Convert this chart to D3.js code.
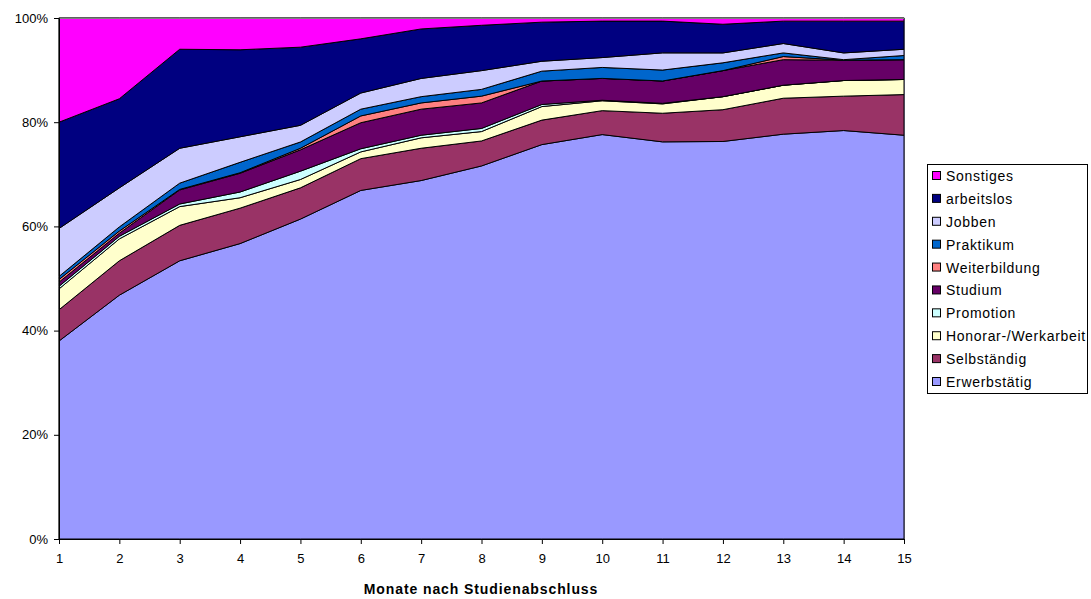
<!DOCTYPE html>
<html>
<head>
<meta charset="utf-8">
<script src="https://cdn.jsdelivr.net/npm/d3@7"></script>
<style>
  html, body { margin: 0; padding: 0; background: #ffffff; }
  svg { display: block; font-family: "Liberation Sans", Arial, sans-serif; }
</style>
</head>
<body>
<svg id="chart" width="1091" height="599"></svg>
<script>
// ---- Data (percent shares per month after graduation) ----
const months = [1, 2, 3, 4, 5, 6, 7, 8, 9, 10, 11, 12, 13, 14, 15];

const erwerbstaetig = [38.0, 46.8, 53.4, 56.7, 61.4, 66.9, 68.8, 71.6, 75.7, 77.7, 76.3, 76.3, 77.7, 78.4, 77.5];
const selbstaendig  = [6.0, 6.6, 6.8, 6.8, 6.0, 6.1, 6.2, 4.8, 4.7, 4.6, 5.5, 6.1, 6.9, 6.6, 7.8];
const honorar       = [4.0, 4.2, 3.6, 2.0, 1.6, 1.3, 2.0, 1.8, 2.6, 1.9, 1.8, 2.5, 2.5, 3.0, 2.9];
const promotion     = [0.5, 0.5, 0.5, 1.1, 1.6, 0.6, 0.5, 0.6, 0.4, 0.1, 0.1, 0.0, 0.0, 0.0, 0.0];
const studium       = [0.8, 0.6, 2.7, 3.6, 4.1, 5.0, 5.0, 4.9, 4.5, 4.2, 4.3, 5.0, 4.9, 3.9, 3.8];
const weiterbildung = [0.5, 0.4, 0.1, 0.1, 0.3, 1.3, 1.2, 1.3, 0.0, 0.0, 0.0, 0.0, 0.6, 0.0, 0.0];
const praktikum     = [0.6, 0.8, 1.2, 2.0, 1.2, 1.3, 1.2, 1.3, 1.9, 2.1, 2.1, 1.5, 0.7, 0.1, 0.8];
const jobben        = [9.2, 7.5, 6.7, 4.9, 3.2, 3.1, 3.5, 3.6, 1.9, 1.9, 3.3, 1.9, 1.8, 1.3, 1.2];
const arbeitslos    = [20.4, 17.1, 19.0, 16.7, 15.0, 10.4, 9.5, 8.7, 7.5, 7.0, 6.1, 5.5, 4.3, 6.1, 5.4];
const sonstiges     = [20.0, 15.5, 6.0, 6.1, 5.6, 4.0, 2.1, 1.4, 0.8, 0.6, 0.6, 1.2, 0.6, 0.6, 0.6];

// stacking order bottom -> top
const seriesNames = ["Erwerbstätig", "Selbständig", "Honorar-/Werkarbeit", "Promotion", "Studium",
                     "Weiterbildung", "Praktikum", "Jobben", "arbeitslos", "Sonstiges"];
const seriesValues = [erwerbstaetig, selbstaendig, honorar, promotion, studium,
                      weiterbildung, praktikum, jobben, arbeitslos, sonstiges];
const seriesColors = ["#9999FF", "#993366", "#FFFFCC", "#CCFFFF", "#660066",
                      "#FF8080", "#0066CC", "#CCCCFF", "#000080", "#FF00FF"];

const yTicks = [0, 0.2, 0.4, 0.6, 0.8, 1.0];
const xTitle = "Monate nach Studienabschluss";

(function () {
  const table = months.map((m, i) => {
    const row = { month: m };
    seriesNames.forEach((n, k) => { row[n] = seriesValues[k][i]; });
    return row;
  });

  const stack = d3.stack().keys(seriesNames).offset(d3.stackOffsetExpand);
  const layers = stack(table);

  const svg = d3.select("#chart");
  const pL = 59, pR = 904, pT = 18, pB = 539;

  const x = d3.scaleLinear().domain([1, 15]).range([pL, pR]);
  const y = d3.scaleLinear().domain([0, 1]).range([pB, pT]);
  const color = d3.scaleOrdinal().domain(seriesNames).range(seriesColors);

  svg.append("rect")
    .attr("x", pL).attr("y", pT)
    .attr("width", pR - pL).attr("height", pB - pT)
    .attr("fill", "#ffffff").attr("stroke", "#808080").attr("stroke-width", 1);

  const area = d3.area()
    .x(d => x(d.data.month))
    .y0(d => y(d[0]))
    .y1(d => y(d[1]));

  svg.append("g").selectAll("path")
    .data(layers)
    .join("path")
    .attr("d", area)
    .attr("fill", d => color(d.key))
    .attr("stroke", "#000000")
    .attr("stroke-width", 1)
    .attr("stroke-linejoin", "round");

  svg.append("line").attr("x1", pL).attr("x2", pR).attr("y1", pT + 0.5).attr("y2", pT + 0.5)
    .attr("stroke", "#808080");
  svg.append("line").attr("x1", pR + 0.5).attr("x2", pR + 0.5).attr("y1", pT).attr("y2", pB)
    .attr("stroke", "#4a4a5a");

  // ---- Axes ----
  const yAxis = d3.axisLeft(y).tickValues(yTicks).tickSize(5).tickPadding(6)
    .tickFormat(d3.format(".0%"));
  const yG = svg.append("g").attr("transform", `translate(${pL},0)`).call(yAxis);
  yG.select(".domain").attr("stroke", "#000");
  yG.selectAll(".tick line").attr("stroke", "#000");
  yG.selectAll("text").attr("font-size", 13).attr("fill", "#000")
    .attr("font-family", "'Liberation Sans', Arial, sans-serif");

  const xAxis = d3.axisBottom(x).tickValues(months).tickSize(5).tickPadding(10)
    .tickFormat(d3.format("d"));
  const xG = svg.append("g").attr("transform", `translate(0,${pB})`).call(xAxis);
  xG.select(".domain").attr("stroke", "#000");
  xG.selectAll(".tick line").attr("stroke", "#000");
  xG.selectAll("text").attr("font-size", 13).attr("fill", "#000")
    .attr("font-family", "'Liberation Sans', Arial, sans-serif");

  svg.append("text")
    .attr("x", 481).attr("y", 594)
    .attr("text-anchor", "middle")
    .attr("font-size", 14).attr("font-weight", "bold")
    .attr("letter-spacing", 0.9)
    .text(xTitle);

  // ---- Legend ----
  const legend = svg.append("g");
  legend.append("rect")
    .attr("x", 927.5).attr("y", 164.5).attr("width", 160).attr("height", 229)
    .attr("fill", "#fff").attr("stroke", "#000").attr("stroke-width", 1);

  const legendOrder = seriesNames.slice().reverse();
  const ly = d3.scalePoint().domain(legendOrder).range([176, 382]);
  const items = legend.selectAll("g.item").data(legendOrder).join("g")
    .attr("class", "item")
    .attr("transform", d => `translate(0,${ly(d)})`);
  items.append("rect")
    .attr("x", 932.5).attr("y", -4.5).attr("width", 8).attr("height", 8)
    .attr("fill", d => color(d)).attr("stroke", "#000").attr("stroke-width", 1);
  items.append("text")
    .attr("x", 946).attr("y", 0).attr("dy", "0.36em")
    .attr("font-size", 14).attr("fill", "#000")
    .attr("letter-spacing", 0.7)
    .text(d => d);
})();
</script>
</body>
</html>
